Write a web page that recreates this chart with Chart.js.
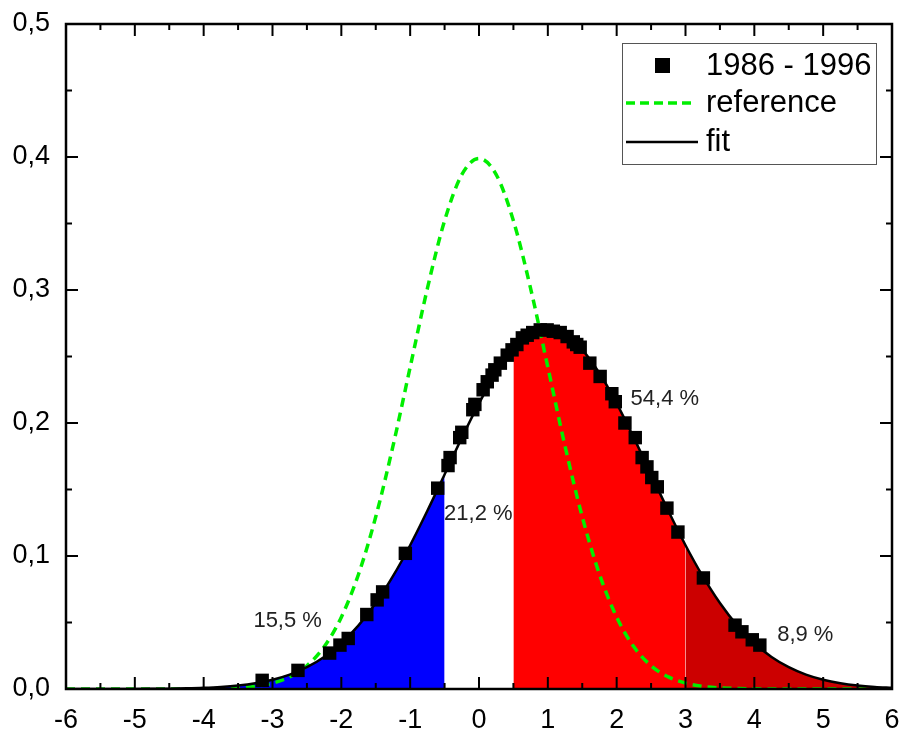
<!DOCTYPE html>
<html>
<head>
<title>Distribution 1986 - 1996</title>
<script src="https://cdn.jsdelivr.net/npm/chart.js"></script>
<style>
  body{margin:0;background:#fff;}
  #wrap{width:903px;height:733px;}
</style>
</head>
<body>
<div id="wrap"><canvas id="chart" width="903" height="733"></canvas></div>
<script>
// x grid used by the two curves
const gridX = [-6, -5.75, -5.5, -5.25, -5, -4.75, -4.5, -4.25, -4, -3.75, -3.5, -3.25, -3, -2.75, -2.5, -2.25,
  -2, -1.75, -1.5, -1.25, -1, -0.75, -0.5, -0.25, 0, 0.25, 0.5, 0.75, 1, 1.25, 1.5, 1.75, 2, 2.25, 2.5, 2.75,
  3, 3.25, 3.5, 3.75, 4, 4.25, 4.5, 4.75, 5, 5.25, 5.5, 5.75, 6];

// fitted curve (solid black)
const fitY = [0.0000, 0.00001, 0.00002, 0.00004, 0.00007, 0.00014, 0.00027, 0.00049, 0.00088, 0.00154, 0.00262,
  0.00433, 0.00693, 0.0108, 0.0164, 0.0241, 0.0344, 0.0478, 0.0646, 0.0848, 0.1081, 0.1340, 0.1613, 0.1888,
  0.2148, 0.2374, 0.2550, 0.2662, 0.2700, 0.2662, 0.2550, 0.2374, 0.2148, 0.1888, 0.1613, 0.1340, 0.1081,
  0.0848, 0.0646, 0.0478, 0.0344, 0.0241, 0.0164, 0.0108, 0.00693, 0.00433, 0.00262, 0.00154, 0.00088];

// reference curve (dashed green)
const refY = [0, 0, 0, 0, 0.0000015, 0.000005, 0.000016, 0.000047, 0.00013, 0.00035, 0.00087, 0.0020, 0.0044,
  0.0091, 0.0175, 0.0317, 0.0540, 0.0863, 0.1295, 0.1826, 0.2420, 0.3011, 0.3521, 0.3867, 0.3989, 0.3867,
  0.3521, 0.3011, 0.2420, 0.1826, 0.1295, 0.0863, 0.0540, 0.0317, 0.0175, 0.0091, 0.0044, 0.0020, 0.00087,
  0.00035, 0.00013, 0.000047, 0.000016, 0.000005, 0.0000015, 0, 0, 0, 0];

// measured points 1986 - 1996
const dataX = [-3.15, -2.63, -2.17, -2.02, -1.90, -1.63, -1.48, -1.40, -1.07, -0.60, -0.45, -0.42, -0.28, -0.25,
  -0.09, -0.06, 0.06, 0.12, 0.19, 0.23, 0.31, 0.41, 0.48, 0.55, 0.63, 0.70, 0.78, 0.89, 0.99, 1.08, 1.18, 1.28,
  1.37, 1.42, 1.47, 1.61, 1.76, 1.93, 1.98, 2.12, 2.27, 2.37, 2.44, 2.51, 2.59, 2.73, 2.89, 3.26, 3.72, 3.82,
  3.97, 4.08];
const dataY = [0.0065, 0.014, 0.027, 0.033, 0.038, 0.056, 0.067, 0.073, 0.102, 0.151, 0.168, 0.174, 0.189, 0.193,
  0.210, 0.214, 0.225, 0.231, 0.236, 0.240, 0.245, 0.251, 0.255, 0.259, 0.264, 0.266, 0.268, 0.270, 0.270, 0.269,
  0.268, 0.265, 0.261, 0.259, 0.257, 0.245, 0.235, 0.222, 0.216, 0.200, 0.189, 0.174, 0.167, 0.159, 0.152, 0.136,
  0.118, 0.0835, 0.048, 0.043, 0.037, 0.033];

// shaded ranges under the fit
const areaFrom = [-6, 0.5, 3];
const areaTo = [-0.5, 3, 6];
const areaColors = ['#0000ff', '#ff0000', '#cc0000'];

// share labels
const shareText = ['15,5 %', '21,2 %', '54,4 %', '8,9 %'];
const shareX = [-2.78, -0.01, 2.70, 4.74];
const shareY = [0.051, 0.132, 0.218, 0.041];

const FONT = 'Liberation Sans, Arial, sans-serif';

const pts = (xs, ys) => xs.map((x, i) => ({x: x, y: ys[i]}));

const areaSets = areaFrom.map((a, k) => ({
  label: 'area' + k,
  data: pts(gridX, fitY).filter(p => p.x >= a && p.x <= areaTo[k]),
  showLine: true,
  fill: 'origin',
  backgroundColor: areaColors[k],
  borderColor: 'transparent',
  borderWidth: 0,
  pointRadius: 0,
  cubicInterpolationMode: 'monotone',
  order: 3
}));

// frame with inward ticks on all four sides
const framePlugin = {
  id: 'frame',
  afterDatasetsDraw(chart) {
    const {ctx, chartArea: ca, scales} = chart;
    ctx.save();
    ctx.strokeStyle = '#000';
    ctx.lineWidth = 2.5;
    ctx.strokeRect(ca.left, ca.top, ca.right - ca.left, ca.bottom - ca.top);
    ctx.lineWidth = 2;
    ctx.beginPath();
    for (let i = -12; i <= 12; i++) {
      const px = scales.x.getPixelForValue(i / 2);
      const len = i % 2 === 0 ? 12 : 6;
      ctx.moveTo(px, ca.bottom); ctx.lineTo(px, ca.bottom - len);
      ctx.moveTo(px, ca.top); ctx.lineTo(px, ca.top + len);
    }
    for (let i = 0; i <= 10; i++) {
      const py = scales.y.getPixelForValue(i * 0.05);
      const len = i % 2 === 0 ? 12 : 6;
      ctx.moveTo(ca.left, py); ctx.lineTo(ca.left + len, py);
      ctx.moveTo(ca.right, py); ctx.lineTo(ca.right - len, py);
    }
    ctx.stroke();

    // share labels
    ctx.fillStyle = '#222';
    ctx.font = '22px ' + FONT;
    ctx.textAlign = 'center';
    ctx.textBaseline = 'middle';
    shareText.forEach((t, i) => {
      ctx.fillText(t, scales.x.getPixelForValue(shareX[i]), scales.y.getPixelForValue(shareY[i]));
    });

    // legend box
    const bx = ca.right - 270, by = ca.top + 19;
    ctx.fillStyle = '#fff';
    ctx.fillRect(bx, by, 254, 121);
    ctx.strokeStyle = '#555';
    ctx.lineWidth = 1;
    ctx.strokeRect(bx + 0.5, by + 0.5, 254, 121);
    ctx.fillStyle = '#000';
    ctx.fillRect(bx + 33, by + 15, 15, 15);
    ctx.strokeStyle = '#00ee00';
    ctx.lineWidth = 3.5;
    ctx.setLineDash([9, 5]);
    ctx.beginPath(); ctx.moveTo(bx + 4, by + 60); ctx.lineTo(bx + 70, by + 60); ctx.stroke();
    ctx.setLineDash([]);
    ctx.strokeStyle = '#000';
    ctx.lineWidth = 2.5;
    ctx.beginPath(); ctx.moveTo(bx + 4, by + 99); ctx.lineTo(bx + 76, by + 99); ctx.stroke();
    ctx.font = '31px ' + FONT;
    ctx.textAlign = 'left';
    ctx.fillStyle = '#000';
    ctx.fillText('1986 - 1996', bx + 84, by + 23);
    ctx.fillText('reference', bx + 84, by + 60);
    ctx.fillText('fit', bx + 84, by + 99);
    ctx.restore();
  }
};

new Chart(document.getElementById('chart'), {
  type: 'scatter',
  data: {
    datasets: [
      {
        label: '1986 - 1996',
        data: pts(dataX, dataY),
        pointStyle: 'rect',
        pointRadius: 9.5,
        backgroundColor: '#000',
        borderWidth: 0,
        order: 0
      },
      {
        label: 'fit',
        data: pts(gridX, fitY),
        showLine: true,
        borderColor: '#000',
        borderWidth: 2.5,
        pointRadius: 0,
        cubicInterpolationMode: 'monotone',
        order: 1
      },
      {
        label: 'reference',
        data: pts(gridX, refY),
        showLine: true,
        borderColor: '#00ee00',
        borderWidth: 3.5,
        borderDash: [9, 6],
        pointRadius: 0,
        cubicInterpolationMode: 'monotone',
        order: 2
      },
      ...areaSets
    ]
  },
  options: {
    responsive: false,
    animation: false,
    devicePixelRatio: 1,
    layout: {padding: {top: 24, right: 11, left: 0, bottom: 0}},
    plugins: {legend: {display: false}, tooltip: {enabled: false}},
    scales: {
      x: {
        type: 'linear', min: -6, max: 6,
        grid: {display: false}, border: {display: false},
        ticks: {stepSize: 1, color: '#000', font: {size: 27, family: FONT}, padding: 7, maxRotation: 0, autoSkip: false},
        afterFit(s) { s.height = 44; s.paddingLeft = 0; s.paddingRight = 0; }
      },
      y: {
        min: 0, max: 0.5,
        grid: {display: false}, border: {display: false},
        ticks: {stepSize: 0.1, color: '#000', font: {size: 27, family: FONT}, padding: 8,
          callback: v => v.toFixed(1).replace('.', ',')},
        afterFit(s) { s.width = 66; s.paddingTop = 0; s.paddingBottom = 0; }
      }
    }
  },
  plugins: [framePlugin]
});
</script>
</body>
</html>
